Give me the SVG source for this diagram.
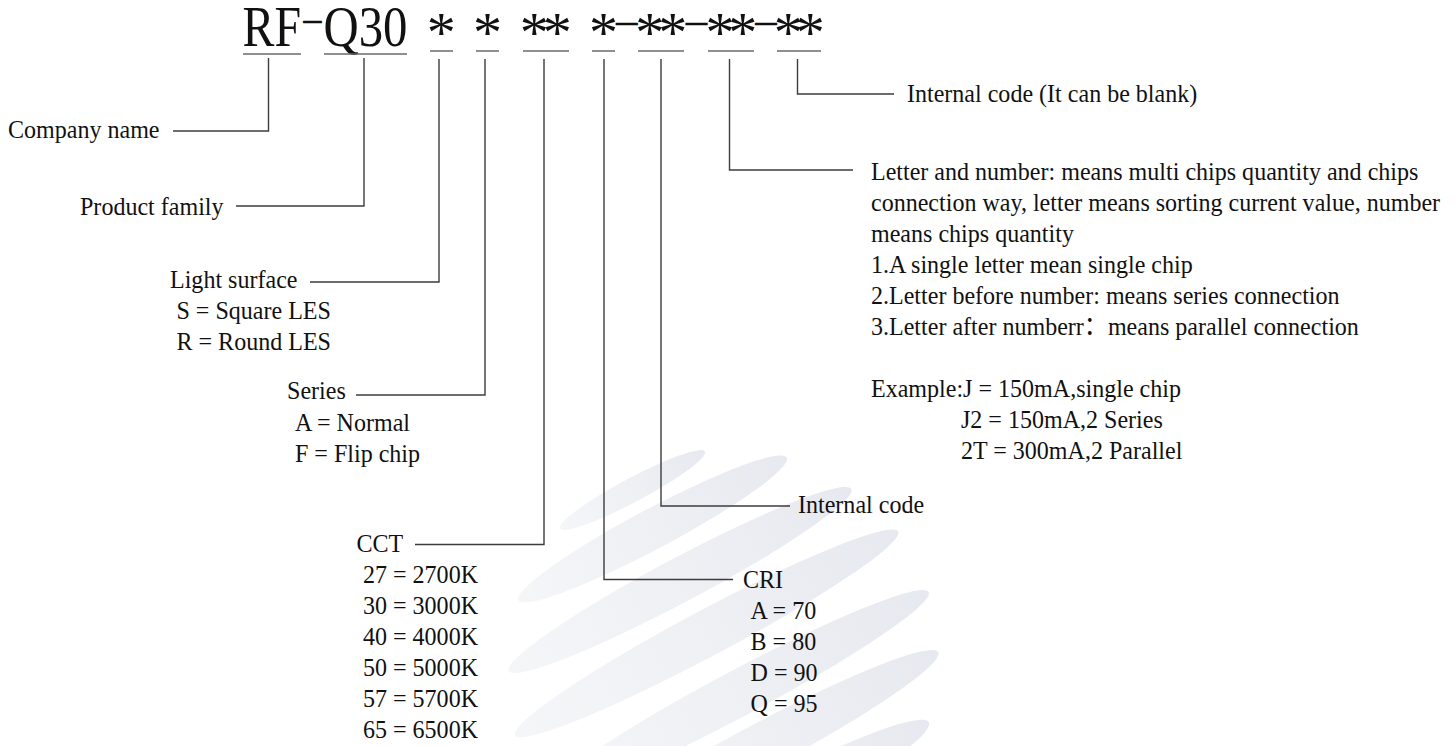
<svg xmlns="http://www.w3.org/2000/svg" width="1456" height="746" viewBox="0 0 1456 746">
  <style>
    .t { font-family: "Liberation Serif", "Noto Sans CJK SC", serif; font-size: 26px; fill: #111; }
    .ttl { font-family: "Liberation Serif", "Noto Sans CJK SC", serif; font-size: 58px; fill: #111; }
    .star { font-family: "Liberation Serif", serif; font-size: 58px; fill: #111; }
    .dash { font-family: "Liberation Serif", serif; font-size: 48px; fill: #111; }
    .ul { stroke: #6a6a6a; stroke-width: 1.5; fill: none; }
    .con { stroke: #3c3c3c; stroke-width: 1.4; fill: none; }
  </style>
  <defs>
    <linearGradient id="wm" x1="0" y1="0" x2="1" y2="0">
      <stop offset="0" stop-color="#f5f6f8"/>
      <stop offset="0.5" stop-color="#eef0f4"/>
      <stop offset="1" stop-color="#e7e9f0"/>
    </linearGradient>
  </defs>
  <rect width="1456" height="746" fill="#ffffff"/>

  <g id="watermark" fill="url(#wm)">
    <ellipse cx="632.5" cy="490" rx="82" ry="12" transform="rotate(-28 632.5 490)"/>
    <ellipse cx="652.5" cy="529" rx="152" ry="20" transform="rotate(-28 652.5 529)"/>
    <ellipse cx="680" cy="580" rx="194" ry="22" transform="rotate(-28 680 580)"/>
    <ellipse cx="706.7" cy="633.3" rx="217" ry="23" transform="rotate(-28 706.7 633.3)"/>
    <ellipse cx="737" cy="694" rx="217" ry="23" transform="rotate(-28 737 694)"/>
    <ellipse cx="760" cy="747" rx="202" ry="23" transform="rotate(-28 760 747)"/>
    <ellipse cx="777" cy="803" rx="172" ry="23" transform="rotate(-28 777 803)"/>
  </g>

  <g id="code">
    <text class="ttl" x="242.5" y="46" textLength="58.5" lengthAdjust="spacingAndGlyphs">RF</text>
    <text class="dash" x="312.3" y="37.7" text-anchor="middle" textLength="23" lengthAdjust="spacingAndGlyphs">−</text>
    <text class="ttl" x="323.5" y="46" textLength="84" lengthAdjust="spacingAndGlyphs">Q30</text>
    <text class="star" x="441.3 487.5 534.3 557.2 603.5" y="52" text-anchor="middle">*****</text>
    <text class="dash" x="626.5 696.3 765.8" y="40.4" text-anchor="middle">−−−</text>
    <text class="star" x="649.8 672.8 719.9 742.8 788.3 810.3" y="52" text-anchor="middle">******</text>
    <line class="ul" x1="243" y1="54" x2="301" y2="54"/>
    <line class="ul" x1="324" y1="54" x2="407" y2="54"/>
    <line class="ul" x1="430" y1="51" x2="453" y2="51"/>
    <line class="ul" x1="476" y1="51" x2="499" y2="51"/>
    <line class="ul" x1="523" y1="51" x2="569" y2="51"/>
    <line class="ul" x1="592" y1="51" x2="615" y2="51"/>
    <line class="ul" x1="638" y1="51" x2="684" y2="51"/>
    <line class="ul" x1="708" y1="51" x2="754" y2="51"/>
    <line class="ul" x1="777" y1="51" x2="821" y2="51"/>
  </g>

  <g id="connectors">
    <polyline class="con" points="268.5,58 268.5,131 173,131"/>
    <polyline class="con" points="364,58 364,206 236,206"/>
    <polyline class="con" points="439,59 439,282 310,282"/>
    <polyline class="con" points="485,59 485,395 356,395"/>
    <polyline class="con" points="544,59 544,544.5 415,544.5"/>
    <polyline class="con" points="604,59 604,579.5 733,579.5"/>
    <polyline class="con" points="661,59 661,506 790,506"/>
    <polyline class="con" points="729.5,59 729.5,170 853,170"/>
    <polyline class="con" points="797.5,59 797.5,94 894,94"/>
  </g>

  <g transform="scale(0.925 1)">
    <g id="company">
      <text class="t" x="8.6" y="138">Company name</text>
    </g>
    <g id="product">
      <text class="t" x="86.5" y="215">Product family</text>
    </g>
    <g id="light">
      <text class="t"><tspan x="183.8" y="288.5">Light surface</tspan><tspan x="190.8" y="319.5">S = Square LES</tspan><tspan x="190.8" y="350.5">R = Round LES</tspan></text>
    </g>
    <g id="series">
      <text class="t"><tspan x="310.3" y="399.5">Series</tspan><tspan x="318.9" y="431">A = Normal</tspan><tspan x="318.9" y="462">F = Flip chip</tspan></text>
    </g>
    <g id="cct">
      <text class="t"><tspan x="385.4" y="552.5">CCT</tspan><tspan x="392.4" y="583.5">27 = 2700K</tspan><tspan x="392.4" y="614.5">30 = 3000K</tspan><tspan x="392.4" y="645.5">40 = 4000K</tspan><tspan x="392.4" y="676.5">50 = 5000K</tspan><tspan x="392.4" y="707.5">57 = 5700K</tspan><tspan x="392.4" y="738.5">65 = 6500K</tspan></text>
    </g>
    <g id="cri">
      <text class="t"><tspan x="803.2" y="588.5">CRI</tspan><tspan x="811.4" y="619.5">A = 70</tspan><tspan x="811.4" y="650.5">B = 80</tspan><tspan x="811.4" y="681.5">D = 90</tspan><tspan x="811.4" y="712.5">Q = 95</tspan></text>
    </g>
    <g id="internal">
      <text class="t" x="862.7" y="513.5">Internal code</text>
    </g>
    <g id="chips">
      <text class="t"><tspan x="941.6" y="180">Letter and number: means multi chips quantity and chips</tspan><tspan x="941.6" y="211">connection way, letter means sorting current value, number</tspan><tspan x="941.6" y="242">means chips quantity</tspan><tspan x="941.6" y="273">1.A single letter mean single chip</tspan><tspan x="941.6" y="304">2.Letter before number: means series connection</tspan><tspan x="941.6" y="335">3.Letter after numberr：means parallel connection</tspan><tspan x="941.6" y="397">Example:J = 150mA,single chip</tspan><tspan x="1038.9" y="428.5">J2 = 150mA,2 Series</tspan><tspan x="1038.9" y="459.5">2T = 300mA,2 Parallel</tspan></text>
    </g>
    <g id="internal-blank">
      <text class="t" x="980.5" y="102.5">Internal code (It can be blank)</text>
    </g>
  </g>
</svg>
